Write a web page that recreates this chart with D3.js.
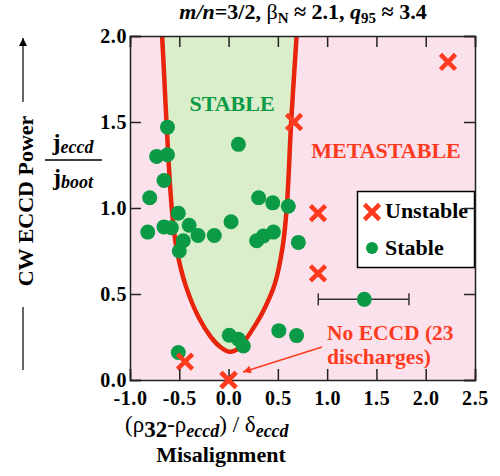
<!DOCTYPE html>
<meta charset="utf-8">
<style>
body { margin: 0; background: #fff; }
svg text { font-family: "Liberation Serif", "Times New Roman", serif; font-weight: bold; }
</style>
<svg width="500" height="476"></svg>
<script src="https://cdnjs.cloudflare.com/ajax/libs/d3/7.8.5/d3.min.js"></script>
<script>

// data
var xTicks = [-1.0, -0.5, 0.0, 0.5, 1.0, 1.5, 2.0, 2.5];
var yTicks = [0.0, 0.5, 1.0, 1.5, 2.0];

var stableX = [-0.62, 0.10, -0.73, -0.62, -0.655, -0.80, -0.51, -0.82, -0.655, -0.58,
               -0.40, -0.31, -0.145, 0.025, -0.46, -0.50, 0.305, 0.448, 0.606, 0.285,
               0.353, 0.455, 0.708, -0.51, 0.007, 0.10, 0.15, 0.51, 0.69, 1.377];
var stableY = [1.47, 1.37, 1.30, 1.31, 1.16, 1.06, 0.97, 0.86, 0.89, 0.885,
               0.90, 0.84, 0.84, 0.92, 0.81, 0.75, 1.06, 1.03, 1.01, 0.81,
               0.837, 0.86, 0.80, 0.16, 0.26, 0.237, 0.198, 0.287, 0.258, 0.469];

var unstableX = [2.226, 0.664, 0.907, 0.907, -0.442, 0.0];
var unstableY = [1.849, 1.50, 0.97, 0.62, 0.107, 0.0];

// horizontal error bar on the point at 1.377
var errPoint = [1.377, 0.469];
var errRange = [0.91, 1.83];

// stability boundary
var boundaryX = [-0.69, -0.675, -0.63, -0.59, -0.56, -0.52, -0.43, -0.30, -0.18, -0.08,
                 0.0, 0.06, 0.14, 0.25, 0.36, 0.47, 0.55, 0.59, 0.635, 0.69, 0.70];
var boundaryY = [2.1, 2.0, 1.5, 1.1, 0.9, 0.74, 0.54, 0.36, 0.25, 0.19,
                 0.165, 0.17, 0.21, 0.30, 0.41, 0.56, 0.78, 1.0, 1.5, 2.0, 2.1];

var svg = d3.select("svg");

var x = d3.scaleLinear().domain([-1, 2.5]).range([130, 475]);
var y = d3.scaleLinear().domain([0, 2]).range([380, 36]);

var red = "#ff3b1f", lineRed = "#e8240c", green = "#0b9a45";

svg.append("defs").append("clipPath").attr("id", "plot")
  .append("rect").attr("x", x(-1)).attr("y", y(2)).attr("width", x(2.5) - x(-1)).attr("height", y(0) - y(2));

svg.append("defs").append("marker")
    .attr("id", "head").attr("viewBox", "0 0 10 10").attr("refX", 10).attr("refY", 5)
    .attr("markerWidth", 10).attr("markerHeight", 8).attr("markerUnits", "userSpaceOnUse")
    .attr("orient", "auto")
  .append("path").attr("d", "M0,0L10,5L0,10z").attr("fill", red);

svg.append("defs").append("marker")
    .attr("id", "headBlack").attr("viewBox", "0 0 10 10").attr("refX", 10).attr("refY", 5)
    .attr("markerWidth", 8).attr("markerHeight", 8).attr("markerUnits", "userSpaceOnUse")
    .attr("orient", "auto")
  .append("path").attr("d", "M0,0L10,5L0,10z").attr("fill", "#000");

var plot = svg.append("g").attr("clip-path", "url(#plot)");

plot.append("rect")
    .attr("x", x(-1)).attr("y", y(2))
    .attr("width", x(2.5) - x(-1)).attr("height", y(0) - y(2))
    .attr("fill", "#fbe1ec");

var bnd = boundaryX.map((d, i) => [d, boundaryY[i]]);
var line = d3.line().x(d => x(d[0])).y(d => y(d[1])).curve(d3.curveCatmullRom);

plot.append("path")
    .attr("d", line(bnd) + "Z")
    .attr("fill", "#daeecb");

plot.append("path")
    .attr("d", line(bnd))
    .attr("fill", "none")
    .attr("stroke", lineRed)
    .attr("stroke-width", 4.5);

// error bar
var eb = svg.append("g").attr("stroke", "#333").attr("stroke-width", 1.5);
eb.append("line").attr("x1", x(errRange[0])).attr("x2", x(errRange[1]))
    .attr("y1", y(errPoint[1])).attr("y2", y(errPoint[1]));
errRange.forEach(v => eb.append("line").attr("x1", x(v)).attr("x2", x(v))
    .attr("y1", y(errPoint[1]) - 6).attr("y2", y(errPoint[1]) + 6));

svg.append("g").selectAll("circle")
  .data(stableX.map((d, i) => [d, stableY[i]]))
  .join("circle")
    .attr("cx", d => x(d[0]))
    .attr("cy", d => y(d[1]))
    .attr("r", 7.5)
    .attr("fill", green);

var xSym = d3.symbol().type(d3.symbolX).size(150);

svg.append("g").selectAll("path")
  .data(unstableX.map((d, i) => [d, unstableY[i]]))
  .join("path")
    .attr("transform", d => "translate(" + x(d[0]) + "," + y(d[1]) + ")")
    .attr("d", xSym)
    .attr("fill", "none")
    .attr("stroke", red)
    .attr("stroke-width", 4.5);

// region labels
svg.append("text").attr("x", 232).attr("y", 111).attr("text-anchor", "middle")
    .attr("font-size", 22).attr("fill", green).text("STABLE");
svg.append("text").attr("x", 386).attr("y", 158).attr("text-anchor", "middle")
    .attr("font-size", 22).attr("fill", red).text("METASTABLE");

svg.append("text").attr("x", 327).attr("y", 340).attr("font-size", 21.5).attr("fill", red).text("No ECCD (23");
svg.append("text").attr("x", 327).attr("y", 364).attr("font-size", 21.5).attr("fill", red).text("discharges)");

svg.append("line")
    .attr("x1", x(0.948)).attr("y1", y(0.192))
    .attr("x2", x(0.146)).attr("y2", y(0.047))
    .attr("stroke", red).attr("stroke-width", 1.5)
    .attr("marker-end", "url(#head)");

// legend
var lg = svg.append("g");
lg.append("rect").attr("x", 357.5).attr("y", 191.5).attr("width", 117).attr("height", 76)
    .attr("fill", "#fff").attr("stroke", "#000").attr("stroke-width", 1.5);
lg.append("path").attr("transform", "translate(372,212)").attr("d", xSym)
    .attr("fill", "none").attr("stroke", red).attr("stroke-width", 4.5);
lg.append("circle").attr("cx", 372).attr("cy", 248).attr("r", 6).attr("fill", green);
lg.append("text").attr("x", 385).attr("y", 218).attr("font-size", 22).text("Unstable");
lg.append("text").attr("x", 385).attr("y", 255).attr("font-size", 22).text("Stable");

// axes, ticks inward on all four sides
var fmt = d => d.toFixed(1);
var ax = svg.append("g").attr("class", "axes");

ax.append("g").attr("transform", "translate(0," + y(0) + ")")
  .call(d3.axisBottom(x).tickValues(xTicks).tickFormat(fmt).tickSize(-11).tickPadding(11));
ax.append("g").attr("transform", "translate(0," + y(2) + ")")
  .call(d3.axisTop(x).tickValues(xTicks).tickFormat("").tickSize(-11));
ax.append("g").attr("transform", "translate(" + x(-1) + ",0)")
  .call(d3.axisLeft(y).tickValues(yTicks).tickFormat(fmt).tickSize(-11).tickPadding(3));
ax.append("g").attr("transform", "translate(" + x(2.5) + ",0)")
  .call(d3.axisRight(y).tickValues(yTicks).tickFormat("").tickSize(-11));

ax.selectAll(".domain").attr("stroke", "#222").attr("stroke-width", 1.5);
ax.selectAll(".tick line").attr("stroke", "#222").attr("stroke-width", 1.5);
ax.selectAll(".tick text").attr("font-size", 20).attr("fill", "#000")
    .style("letter-spacing", "0.6px");
ax.selectAll("g").attr("font-family", null).attr("font-size", null);

// unstable marker at the origin sits on top of the axis
svg.append("path")
    .attr("transform", "translate(" + x(unstableX[5]) + "," + y(unstableY[5]) + ")")
    .attr("d", xSym).attr("fill", "none").attr("stroke", red).attr("stroke-width", 4.5);

// title
var t = svg.append("text").attr("x", 303).attr("y", 19).attr("text-anchor", "middle").attr("font-size", 22);
t.append("tspan").attr("font-style", "italic").text("m/n");
t.append("tspan").text("=3/2, ");
t.append("tspan").attr("font-weight", "normal").text("β");
t.append("tspan").attr("font-size", 15).attr("dy", 4).text("N");
t.append("tspan").attr("dy", -4).text(" ≈ 2.1, ");
t.append("tspan").attr("font-style", "italic").text("q");
t.append("tspan").attr("font-size", 15).attr("dy", 4).text("95");
t.append("tspan").attr("dy", -4).text(" ≈ 3.4");

// x label
var xl = svg.append("text").attr("x", 125).attr("y", 432).attr("font-size", 23);
xl.append("tspan").attr("font-weight", "normal").text("(ρ");
xl.append("tspan").attr("dy", 5).text("32");
xl.append("tspan").attr("dy", -5).attr("font-weight", "normal").text("-ρ");
xl.append("tspan").attr("dy", 5).attr("font-size", 18).attr("font-style", "italic").text("eccd");
xl.append("tspan").attr("dy", -5).attr("font-weight", "normal").text(") / δ");
xl.append("tspan").attr("dy", 5).attr("font-size", 18).attr("font-style", "italic").text("eccd");

svg.append("text").attr("x", 221).attr("y", 462).attr("text-anchor", "middle")
    .attr("font-size", 22).text("Misalignment");

// y label
svg.append("text").attr("transform", "translate(33,201) rotate(-90)").attr("text-anchor", "middle")
    .attr("font-size", 22).text("CW ECCD Power");
svg.append("line").attr("x1", 23).attr("x2", 23).attr("y1", 102).attr("y2", 38)
    .attr("stroke", "#000").attr("stroke-width", 1.2).attr("marker-end", "url(#headBlack)");
svg.append("line").attr("x1", 23).attr("x2", 23).attr("y1", 307).attr("y2", 370)
    .attr("stroke", "#000").attr("stroke-width", 1.2);

var num = svg.append("text").attr("x", 73).attr("y", 150).attr("text-anchor", "middle").attr("font-size", 24);
num.append("tspan").text("j");
num.append("tspan").attr("dy", 3).attr("font-size", 18).attr("font-style", "italic").text("eccd");
svg.append("line").attr("x1", 45).attr("x2", 102).attr("y1", 160).attr("y2", 160)
    .attr("stroke", "#000").attr("stroke-width", 1.5);
var den = svg.append("text").attr("x", 73).attr("y", 185).attr("text-anchor", "middle").attr("font-size", 24);
den.append("tspan").text("j");
den.append("tspan").attr("dy", 3).attr("font-size", 18).attr("font-style", "italic").text("boot");

</script>
